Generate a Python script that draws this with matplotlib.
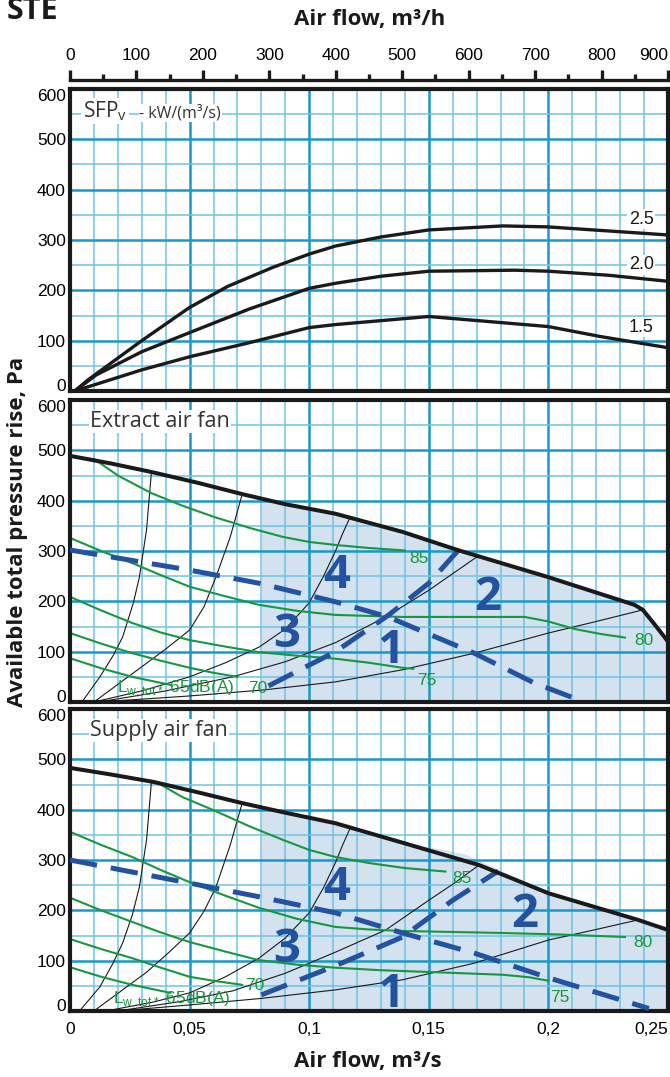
import matplotlib
matplotlib.use("Agg")
import matplotlib.pyplot as plt
import numpy as np

# ---------------- data (x in m3/s, y in Pa) ----------------
xtick_vals = [0, 0.05, 0.1, 0.15, 0.2, 0.25]
xtick_labels = ["0", "0,05", "0,1", "0,15", "0,2", "0,25"]
top_vals = [0, 100, 200, 300, 400, 500, 600, 700, 800, 900]
ytick_vals = [0, 100, 200, 300, 400, 500, 600]

# SFP panel
sfp_labels = ["2.5", "2.0", "1.5"]
sfp25_x = [0.002, 0.0075, 0.03, 0.05, 0.066, 0.085, 0.10, 0.111, 0.13, 0.15, 0.181, 0.20, 0.225, 0.25]
sfp25_y = [0, 22, 100, 166, 208, 246, 272, 288, 306, 320, 328, 326, 318, 310]
sfp20_x = [0.002, 0.011, 0.03, 0.05, 0.075, 0.10, 0.111, 0.13, 0.15, 0.186, 0.20, 0.225, 0.25]
sfp20_y = [0, 32, 78, 116, 163, 204, 214, 228, 238, 240, 238, 230, 218]
sfp15_x = [0.002, 0.01, 0.03, 0.05, 0.075, 0.10, 0.111, 0.15, 0.175, 0.20, 0.222, 0.25]
sfp15_y = [0, 12, 42, 68, 96, 126, 132, 148, 138, 128, 108, 86]
sfp_label_pos = [(0.2388, 332), (0.2388, 242), (0.2388, 118)]

# Extract air fan
ext_fan_x = [0, 0.017, 0.034, 0.053, 0.072, 0.09, 0.111, 0.139, 0.162, 0.20, 0.236, 0.2395, 0.2446, 0.25]
ext_fan_y = [489, 474, 457, 436, 413, 393, 374, 338, 302, 248, 193, 183, 153, 120]
ext_shade_x = [0.08, 0.09, 0.111, 0.139, 0.162, 0.20, 0.236, 0.2395, 0.2446, 0.25]
ext_shade_top = [404, 393, 374, 338, 302, 248, 193, 183, 153, 120]

ext_g85_x = [0.010, 0.02, 0.034, 0.047, 0.06, 0.075, 0.089, 0.10, 0.111, 0.125, 0.14]
ext_g85_y = [483, 450, 415, 390, 368, 346, 328, 318, 312, 306, 301]
ext_g80_x = [0, 0.013, 0.026, 0.038, 0.05, 0.065, 0.079, 0.095, 0.111, 0.139, 0.17, 0.19, 0.2, 0.211, 0.222, 0.232]
ext_g80_y = [326, 300, 276, 252, 229, 210, 193, 181, 173, 169, 169, 169, 160, 145, 135, 128]
ext_g75_x = [0, 0.013, 0.026, 0.038, 0.05, 0.065, 0.079, 0.095, 0.111, 0.125, 0.139, 0.1435]
ext_g75_y = [209, 182, 157, 138, 123, 110, 99, 92, 86, 78, 68, 66]
ext_g70_x = [0, 0.013, 0.026, 0.038, 0.05, 0.06, 0.070]
ext_g70_y = [137, 116, 97, 82, 68, 58, 50]
ext_g65_x = [0, 0.013, 0.026, 0.034, 0.042]
ext_g65_y = [87, 67, 50, 42, 34]

ext_k1_x = [0.005, 0.0125, 0.018, 0.022, 0.0265, 0.029, 0.032, 0.034]
ext_k1_y = [0, 50, 92, 129, 197, 248, 342, 455]
ext_k2_x = [0.010, 0.032, 0.0405, 0.05, 0.056, 0.061, 0.067, 0.072]
ext_k2_y = [0, 77, 107, 143, 189, 248, 328, 413]
ext_k3_x = [0.010, 0.03, 0.05, 0.065, 0.079, 0.09, 0.10, 0.106, 0.111, 0.114, 0.117]
ext_k3_y = [0, 22, 50, 78, 109, 145, 197, 250, 300, 335, 366]
ext_k4_x = [0.012, 0.04, 0.068, 0.09, 0.111, 0.132, 0.15, 0.16, 0.17]
ext_k4_y = [0, 22, 50, 80, 118, 169, 222, 255, 288]
ext_k5_x = [0.012, 0.05, 0.081, 0.111, 0.139, 0.169, 0.2, 0.22, 0.2395]
ext_k5_y = [0, 12, 24, 40, 64, 97, 137, 160, 183]

ext_dash_down_x = [0, 0.05, 0.079, 0.111, 0.133, 0.169, 0.194, 0.215]
ext_dash_down_y = [302, 262, 236, 199, 169, 97, 38, 0]
ext_dash_up_x = [0.083, 0.111, 0.133, 0.15, 0.163]
ext_dash_up_y = [32, 100, 172, 236, 305]

ext_num_pos = {"1": (0.134, 77), "2": (0.1745, 183), "3": (0.0907, 109), "4": (0.1116, 226)}
ext_db_pos = {"85": (0.142, 276), "80": (0.236, 113), "75": (0.145, 34), "70": (0.0745, 18)}
ext_lw_pos = (0.0195, 18)

# Supply air fan
sup_fan_x = [0, 0.017, 0.035, 0.053, 0.072, 0.09, 0.111, 0.14, 0.171, 0.20, 0.2375, 0.25]
sup_fan_y = [483, 470, 455, 435, 413, 394, 373, 333, 290, 234, 181, 161]
sup_shade_x = [0.08, 0.09, 0.111, 0.14, 0.155, 0.165, 0.18, 0.20, 0.2375, 0.25]
sup_shade_top = [404, 394, 373, 333, 322, 312, 280, 234, 181, 161]

sup_g85_x = [0.036, 0.047, 0.06, 0.075, 0.089, 0.10, 0.111, 0.125, 0.14, 0.157]
sup_g85_y = [455, 425, 399, 367, 340, 320, 306, 294, 284, 277]
sup_g80_x = [0, 0.013, 0.026, 0.038, 0.05, 0.065, 0.079, 0.095, 0.111, 0.125, 0.139, 0.16, 0.181, 0.205, 0.232]
sup_g80_y = [356, 330, 306, 280, 256, 229, 205, 183, 167, 162, 159, 157, 155, 152, 147]
sup_g75_x = [0, 0.013, 0.026, 0.038, 0.05, 0.065, 0.079, 0.095, 0.111, 0.13, 0.153, 0.181, 0.192, 0.2]
sup_g75_y = [225, 200, 177, 156, 137, 118, 101, 92, 86, 81, 77, 72, 67, 60]
sup_g70_x = [0, 0.013, 0.026, 0.038, 0.05, 0.06, 0.072]
sup_g70_y = [143, 123, 105, 86, 68, 60, 52]
sup_g65_x = [0, 0.013, 0.026, 0.034, 0.042]
sup_g65_y = [87, 68, 52, 44, 36]

sup_k1_x = [0.004, 0.0125, 0.018, 0.022, 0.026, 0.029, 0.032, 0.034]
sup_k1_y = [0, 48, 95, 135, 190, 246, 340, 453]
sup_k2_x = [0.010, 0.032, 0.041, 0.05, 0.056, 0.061, 0.067, 0.072]
sup_k2_y = [0, 77, 115, 155, 198, 246, 330, 413]
sup_k3_x = [0.015, 0.035, 0.05, 0.065, 0.079, 0.09, 0.10, 0.106, 0.111, 0.114, 0.117]
sup_k3_y = [0, 18, 36, 68, 105, 145, 195, 245, 295, 330, 362]
sup_k4_x = [0.02, 0.045, 0.068, 0.09, 0.111, 0.132, 0.15, 0.161, 0.171]
sup_k4_y = [0, 18, 40, 75, 117, 161, 220, 255, 290]
sup_k5_x = [0.02, 0.05, 0.08, 0.111, 0.139, 0.169, 0.2, 0.22, 0.2375]
sup_k5_y = [0, 12, 25, 42, 62, 95, 141, 162, 181]

sup_dash_down_x = [0, 0.05, 0.079, 0.111, 0.139, 0.169, 0.2, 0.242]
sup_dash_down_y = [300, 254, 227, 195, 155, 115, 66, 5]
sup_dash_up_x = [0.08, 0.111, 0.139, 0.160, 0.179]
sup_dash_up_y = [32, 90, 147, 220, 278]

sup_num_pos = {"1": (0.134, 8), "2": (0.1902, 167), "3": (0.0907, 97), "4": (0.1116, 220)}
sup_db_pos = {"85": (0.1597, 254), "80": (0.2354, 127), "75": (0.2007, 18), "70": (0.0732, 42)}
sup_lw_pos = (0.018, 14)

# ---------------- styles ----------------
GRID_MAJ = "#1898cb"
GRID_MIN = "#6fc2e2"
GREEN = "#17973f"
BLUE = "#2352a0"
SHADE = "#d3e2ee"
INK = "#1a1a1a"
SANS = "Open Sans"
NUM_FONT = "Liberation Sans"
WHITE_BOX = dict(facecolor="white", edgecolor="none", pad=1.0)

fig = plt.figure(figsize=(6.70, 10.77), dpi=100)

L, W = 70 / 670, 598 / 670
H = 302 / 1077


def bottom_of(top_px):
    return 1 - (top_px + 302) / 1077


def style(ax, show_x):
    ax.set_xlim(0, 0.25)
    ax.set_ylim(0, 600)
    ax.set_xticks(xtick_vals)
    ax.set_xticks(np.arange(0, 0.2501, 0.01), minor=True)
    ax.set_yticks(ytick_vals, [str(v) for v in ytick_vals], fontsize=12.5, family=NUM_FONT)
    ax.set_yticks(range(0, 601, 50), minor=True)
    ylabs = ax.get_yticklabels()
    ylabs[0].set_verticalalignment("baseline")
    ylabs[-1].set_verticalalignment("top")
    ax.grid(which="major", color=GRID_MAJ, lw=1.8)
    ax.grid(which="minor", color=GRID_MIN, lw=1.1)
    ax.tick_params(which="both", length=0, pad=3)
    for s in ax.spines.values():
        s.set_linewidth(3)
        s.set_color(INK)
    if show_x:
        ax.set_xticklabels(xtick_labels, fontsize=12.5, family=NUM_FONT)
        ax.tick_params(axis="x", pad=8)
        ax.get_xticklabels()[-1].set_horizontalalignment("right")
    else:
        ax.set_xticklabels([])


ax1 = fig.add_axes([L, bottom_of(89), W, H])
ax2 = fig.add_axes([L, bottom_of(400), W, H])
ax3 = fig.add_axes([L, bottom_of(709), W, H])
style(ax1, False)
style(ax2, False)
style(ax3, True)

# --- SFP panel ---
for (xs, ys), lab, (lx, ly) in zip([(sfp25_x, sfp25_y), (sfp20_x, sfp20_y), (sfp15_x, sfp15_y)],
                                   sfp_labels, sfp_label_pos):
    ax1.plot(xs, ys, color=INK, lw=2.4, solid_capstyle="round", zorder=3)
    ax1.text(lx, ly, lab, ha="center", va="baseline", color=INK, fontsize=13, family=NUM_FONT,
             bbox=WHITE_BOX, zorder=4)
ax1.text(0.0054, 544, r"SFP$_\mathregular{v}$", fontsize=15, family=SANS, color="#333333",
         va="baseline", bbox=WHITE_BOX, zorder=4)
ax1.text(0.029, 544, "- kW/(m³/s)", fontsize=11.5, family=SANS, color="#333333",
         va="baseline", bbox=dict(facecolor="white", edgecolor="none", pad=0.5), zorder=4)


def fan_panel(ax, title, fan, shade, greens, blacks, dashes, nums, dbs, lwpos):
    ax.fill_between(shade[0], 0, shade[1], color=SHADE, lw=0, zorder=1)
    for xs, ys in blacks:
        ax.plot(xs, ys, color=INK, lw=0.8, zorder=2.2)
    for xs, ys in greens:
        ax.plot(xs, ys, color=GREEN, lw=1.5, zorder=2.4)
    for xs, ys in dashes:
        ax.plot(xs, ys, color=BLUE, lw=3.6, dashes=(5.5, 2.8), zorder=2.6)
    ax.plot(fan[0], fan[1], color=INK, lw=2.9, solid_capstyle="round", zorder=3)
    for lab, (x, y) in nums.items():
        ax.text(x, y, lab, ha="center", va="baseline", fontsize=34, fontweight="bold",
                family=SANS, color=BLUE, zorder=5)
    for lab, (x, y) in dbs.items():
        ax.text(x, y, lab, ha="left", va="baseline", color=GREEN, zorder=5,
                fontsize=12.5, family=NUM_FONT)
    ax.text(lwpos[0], lwpos[1], r"L$_\mathregular{w,tot*}$ 65dB(A)", ha="left", va="baseline",
            color=GREEN, zorder=5, fontsize=12.5, family=NUM_FONT)
    ax.text(0.0083, 546, title, fontsize=15.5, family=SANS, color="#333333",
            va="baseline", bbox=WHITE_BOX, zorder=4)


fan_panel(ax2, "Extract air fan", (ext_fan_x, ext_fan_y), (ext_shade_x, ext_shade_top),
          [(ext_g85_x, ext_g85_y), (ext_g80_x, ext_g80_y), (ext_g75_x, ext_g75_y),
           (ext_g70_x, ext_g70_y), (ext_g65_x, ext_g65_y)],
          [(ext_k1_x, ext_k1_y), (ext_k2_x, ext_k2_y), (ext_k3_x, ext_k3_y),
           (ext_k4_x, ext_k4_y), (ext_k5_x, ext_k5_y)],
          [(ext_dash_down_x, ext_dash_down_y), (ext_dash_up_x, ext_dash_up_y)],
          ext_num_pos, ext_db_pos, ext_lw_pos)

fan_panel(ax3, "Supply air fan", (sup_fan_x, sup_fan_y), (sup_shade_x, sup_shade_top),
          [(sup_g85_x, sup_g85_y), (sup_g80_x, sup_g80_y), (sup_g75_x, sup_g75_y),
           (sup_g70_x, sup_g70_y), (sup_g65_x, sup_g65_y)],
          [(sup_k1_x, sup_k1_y), (sup_k2_x, sup_k2_y), (sup_k3_x, sup_k3_y),
           (sup_k4_x, sup_k4_y), (sup_k5_x, sup_k5_y)],
          [(sup_dash_down_x, sup_dash_down_y), (sup_dash_up_x, sup_dash_up_y)],
          sup_num_pos, sup_db_pos, sup_lw_pos)

# --- top m3/h axis ---
axt = fig.add_axes([L, 1 - 80 / 1077, W, 0.0001])
axt.set_xlim(0, 900)
axt.set_yticks([])
for k in ["left", "right", "bottom"]:
    axt.spines[k].set_visible(False)
axt.spines["top"].set_linewidth(2.4)
axt.spines["top"].set_color(INK)
axt.patch.set_visible(False)
axt.xaxis.tick_top()
axt.set_xticks(top_vals, [str(v) for v in top_vals], fontsize=12.5, family=NUM_FONT)
axt.set_xticks(range(0, 901, 50), minor=True)
axt.tick_params(which="major", direction="out", length=7.5, width=2.4, color=INK, pad=5)
axt.tick_params(which="minor", direction="out", length=4, width=2.4, color=INK)
axt.get_xticklabels()[-1].set_horizontalalignment("right")

# --- figure texts ---
fig.text(7 / 670, 1 - 19 / 1077, "STE", fontsize=22, fontweight="bold", family=SANS,
         color=INK, ha="left", va="baseline")
fig.text(370 / 670, 1 - 19 / 1077, "Air flow, m³/h", fontsize=16, fontweight="bold",
         family=SANS, color=INK, ha="center", va="center")
fig.text(368 / 670, 1 - 1062 / 1077, "Air flow, m³/s", fontsize=16, fontweight="bold",
         family=SANS, color=INK, ha="center", va="center")
fig.text(18 / 670, 1 - 532 / 1077, "Available total pressure rise, Pa", rotation=90,
         fontsize=16, fontweight="bold", family=SANS, color=INK, ha="center", va="center")

fig.savefig("out.png", dpi=100)
